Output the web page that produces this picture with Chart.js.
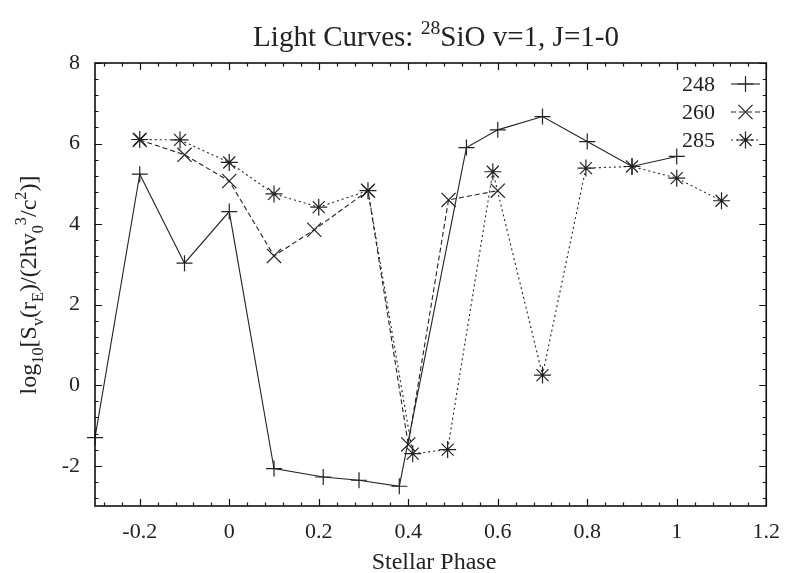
<!DOCTYPE html>
<html><head><meta charset="utf-8">
<script src="https://cdn.jsdelivr.net/npm/chart.js@4/dist/chart.umd.min.js"></script>
<style>html,body{margin:0;padding:0;background:#fff;overflow:hidden}#wrap{width:793px;height:573px}</style>
</head><body><div id="wrap"><canvas id="c" width="793" height="573"></canvas></div>
<script>
// ---- data ----
const seriesLabels = ['248', '260', '285'];
const phase248 = [-0.3, -0.2, -0.1, 0.0, 0.1, 0.21, 0.29, 0.38, 0.53, 0.6, 0.7, 0.8, 0.9, 1.0];
const flux248  = [-1.30, 5.24, 3.03, 4.31, -2.07, -2.28, -2.36, -2.51, 5.90, 6.34, 6.67, 6.05, 5.43, 5.68];
const phase260 = [-0.2, -0.1, 0.0, 0.1, 0.19, 0.31, 0.4, 0.49, 0.6];
const flux260  = [6.09, 5.72, 5.07, 3.21, 3.86, 4.83, -1.47, 4.60, 4.83];
const phase285 = [-0.2, -0.11, 0.0, 0.1, 0.2, 0.31, 0.41, 0.488, 0.589, 0.7, 0.797, 0.9, 1.0, 1.1];
const flux285  = [6.10, 6.09, 5.53, 4.75, 4.42, 4.83, -1.70, -1.60, 5.30, 0.25, 5.39, 5.43, 5.14, 4.58];
const xTickValues = [-0.2, 0, 0.2, 0.4, 0.6, 0.8, 1, 1.2];
const xTickLabels = ['-0.2', '0', '0.2', '0.4', '0.6', '0.8', '1', '1.2'];
const yTickValues = [-2, 0, 2, 4, 6, 8];
const yTickLabels = ['-2', '0', '2', '4', '6', '8'];
const titleParts = [['Light Curves: ', 0], ['28', 1], ['SiO v=1, J=1-0', 0]];
const yLabelParts = [['log', 0], ['10', -1], ['[S', 0], ['v', -1], ['(r', 0], ['E', -1], [')/(2hv', 0], ['0', -1], ['3', 1], ['/c', 0], ['2', 1], [')]', 0]];
const xLabelText = 'Stellar Phase';

const pts = (xs, ys) => xs.map((x, i) => ({x: x, y: ys[i]}));
const INK = '#222';
const SERIF = '"Liberation Serif", "DejaVu Serif", serif';

function measureRich(ctx, parts, base) {
  let total = 0;
  const items = parts.map(([t, lvl]) => {
    const size = lvl === 0 ? base : base * 0.68;
    ctx.font = size + 'px ' + SERIF;
    const w = ctx.measureText(t).width;
    total += w;
    return {t, lvl, size, w};
  });
  return {items, total};
}
function paintRich(ctx, rich, startX, baseY, base) {
  let x = startX;
  ctx.textAlign = 'left';
  ctx.textBaseline = 'alphabetic';
  for (const it of rich.items) {
    ctx.font = it.size + 'px ' + SERIF;
    const dy = it.lvl === 1 ? -base * 0.42 : it.lvl === -1 ? base * 0.28 : 0;
    ctx.fillText(it.t, x, baseY + dy);
    x += it.w;
  }
}

const framePlugin = {
  id: 'frame',
  afterDatasetsDraw(chart) {
    const ctx = chart.ctx, a = chart.chartArea;
    const xs = chart.scales.x, ys = chart.scales.y;
    ctx.save();
    ctx.strokeStyle = '#111';
    ctx.lineWidth = 1.2;
    for (let i = -7; i <= 30; i++) {
      const px = Math.round(xs.getPixelForValue(i * 0.04)) + 0.5;
      const len = (i % 5 === 0) ? 7 : 3.5;
      ctx.beginPath();
      ctx.moveTo(px, a.bottom); ctx.lineTo(px, a.bottom - len);
      ctx.moveTo(px, a.top); ctx.lineTo(px, a.top + len);
      ctx.stroke();
    }
    for (let i = -7; i <= 20; i++) {
      const py = Math.round(ys.getPixelForValue(i * 0.4)) + 0.5;
      const len = (i % 5 === 0) ? 7 : 3.5;
      ctx.beginPath();
      ctx.moveTo(a.left, py); ctx.lineTo(a.left + len, py);
      ctx.moveTo(a.right, py); ctx.lineTo(a.right - len, py);
      ctx.stroke();
    }
    ctx.lineWidth = 1.6;
    ctx.strokeRect(a.left, a.top, a.right - a.left, a.bottom - a.top);

    // legend
    ctx.font = '22px ' + SERIF;
    const rowsY = [84, 112, 140];
    chart.data.datasets.forEach((ds, i) => {
      const y = rowsY[i];
      ctx.textAlign = 'right';
      ctx.textBaseline = 'middle';
      ctx.fillStyle = INK;
      ctx.fillText(ds.label, 715, y + 1);
      ctx.strokeStyle = INK;
      ctx.lineWidth = ds.borderWidth;
      ctx.setLineDash(ds.borderDash || []);
      ctx.beginPath(); ctx.moveTo(731, y); ctx.lineTo(760, y); ctx.stroke();
      ctx.setLineDash([]);
      ctx.lineWidth = ds.pointBorderWidth;
      Chart.helpers.drawPoint(ctx, {pointStyle: ds.pointStyle, radius: ds.pointRadius, rotation: 0, borderWidth: ds.pointBorderWidth}, 745.5, y);
    });

    // title
    ctx.fillStyle = INK;
    const tr = measureRich(ctx, titleParts, 29);
    paintRich(ctx, tr, 436 - tr.total / 2, 46, 29);

    // x label
    ctx.font = '24px ' + SERIF;
    ctx.textAlign = 'center';
    ctx.textBaseline = 'alphabetic';
    ctx.fillText(xLabelText, 434, 569);

    // y label (rotated)
    const yr = measureRich(ctx, yLabelParts, 24);
    ctx.translate(36, 285);
    ctx.rotate(-Math.PI / 2);
    paintRich(ctx, yr, -yr.total / 2, 0, 24);
    ctx.restore();
  }
};

const common = {showLine: true, borderColor: INK, pointBorderColor: INK, pointBackgroundColor: 'rgba(0,0,0,0)', borderWidth: 1.1, pointBorderWidth: 1.2, clip: false, fill: false, tension: 0};

new Chart(document.getElementById('c'), {
  type: 'scatter',
  data: {
    datasets: [
      Object.assign({label: seriesLabels[0], data: pts(phase248, flux248), pointStyle: 'cross', pointRadius: 8, borderDash: []}, common),
      Object.assign({label: seriesLabels[1], data: pts(phase260, flux260), pointStyle: 'crossRot', pointRadius: 10, borderDash: [5, 3]}, common),
      Object.assign({label: seriesLabels[2], data: pts(phase285, flux285), pointStyle: 'star', pointRadius: 8.5, borderDash: [2, 3]}, common)
    ]
  },
  options: {
    responsive: false,
    animation: false,
    devicePixelRatio: 1,
    layout: {padding: {left: 0, right: 20, top: 63, bottom: 0}},
    plugins: {legend: {display: false}, tooltip: {enabled: false}, title: {display: false}},
    scales: {
      x: {
        type: 'linear', min: -0.3, max: 1.2,
        grid: {display: false, drawTicks: false},
        border: {display: false},
        afterFit(s) { s.height = 67; },
        afterBuildTicks(s) { s.ticks = xTickValues.map(v => ({value: v})); },
        ticks: {
          padding: 13, color: INK, font: {family: SERIF, size: 22},
          callback: (v) => { const i = xTickValues.findIndex(t => Math.abs(t - v) < 1e-9); return i >= 0 ? xTickLabels[i] : ''; }
        }
      },
      y: {
        type: 'linear', min: -3, max: 8,
        grid: {display: false, drawTicks: false},
        border: {display: false},
        afterFit(s) { s.width = 95; },
        afterBuildTicks(s) { s.ticks = yTickValues.map(v => ({value: v})); },
        ticks: {
          padding: 15, color: INK, font: {family: SERIF, size: 22},
          callback: (v) => { const i = yTickValues.findIndex(t => Math.abs(t - v) < 1e-9); return i >= 0 ? yTickLabels[i] : ''; }
        }
      }
    }
  },
  plugins: [framePlugin]
});
</script>
</body></html>
